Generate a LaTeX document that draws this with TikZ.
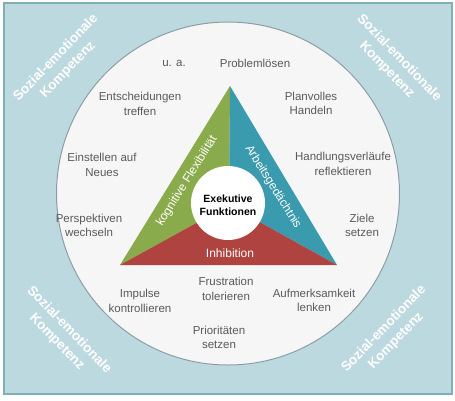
\documentclass[tikz,border=0pt]{standalone}
\usepackage{fontspec}
\setmainfont{Liberation Sans}
\definecolor{bgblue}{HTML}{BDD9E0}
\definecolor{bgborder}{HTML}{7FAEB6}
\definecolor{circfill}{HTML}{F6F6F6}
\definecolor{circline}{HTML}{8C9EA3}
\definecolor{txtgray}{HTML}{5A5A5A}
\definecolor{trigreen}{HTML}{8AAB4B}
\definecolor{triteal}{HTML}{3A9AAE}
\definecolor{trired}{HTML}{AF4340}
\begin{document}
\begin{tikzpicture}[x=1pt,y=-1pt,
  lbl/.style={align=center,text=txtgray,font=\fontsize{11.5}{14.5}\selectfont,inner sep=0pt},
  corner/.style={align=center,text=white,font=\bfseries\fontsize{13.5}{17}\selectfont,inner sep=0pt},
  trilbl/.style={text=white,font=\fontsize{12}{14}\selectfont,inner sep=0pt},
  core/.style={align=center,text=black,font=\bfseries\fontsize{10.5}{12.5}\selectfont,inner sep=0pt}]
\useasboundingbox (0,0) rectangle (455,400);
% background
\draw[fill=bgblue,draw=bgborder,line width=1.2pt] (4,3) rectangle (452,394);
% corner labels
\node[corner,rotate=46]  (ctl) at (62,64)  {Sozial-emotionale\\Kompetenz};
\node[corner,rotate=-46] (ctr) at (393,64) {Sozial-emotionale\\Kompetenz};
\node[corner,rotate=-46] (cbl) at (63,336) {Sozial-emotionale\\Kompetenz};
\node[corner,rotate=46]  (cbr) at (390,335) {Sozial-emotionale\\Kompetenz};
% big circle
\draw[fill=circfill,draw=circline,line width=1pt] (228,193.5) circle (171.5);
% triangle
\coordinate (A) at (230,86);
\coordinate (L) at (120,265);
\coordinate (R) at (337,265);
\coordinate (C) at (229,205);
\fill[trigreen] (A) -- (C) -- (L) -- cycle;
\fill[triteal] (A) -- (C) -- (R) -- cycle;
\fill[trired] (L) -- (C) -- (R) -- cycle;
\fill[white] (228,203) circle (37);
\node[core] (ef) at (228,205) {Exekutive\\Funktionen};
\node[trilbl,rotate=58] (kf) at (187,181) {kognitive Flexibilität};
\node[trilbl,rotate=-58] (ag) at (273,187) {Arbeitsgedächtnis};
\node[trilbl] (inh) at (230,253) {Inhibition};
% labels
\node[lbl] (ua) at (174,63) {u. a.};
\node[lbl] (pl) at (255,63) {Problemlösen};
\node[lbl] (et) at (140,104) {Entscheidungen\\treffen};
\node[lbl] (ph) at (311,103.5) {Planvolles\\Handeln};
\node[lbl] (en) at (102,165) {Einstellen auf\\Neues};
\node[lbl] (hr) at (343,164) {Handlungsverläufe\\reflektieren};
\node[lbl] (pw) at (89,225.5) {Perspektiven\\wechseln};
\node[lbl] (zs) at (362,225.5) {Ziele\\setzen};
\node[lbl] (ik) at (140,301) {Impulse\\kontrollieren};
\node[lbl] (ft) at (226,289) {Frustration\\tolerieren};
\node[lbl] (al) at (314,300.5) {Aufmerksamkeit\\lenken};
\node[lbl] (ps) at (219,337.5) {Prioritäten\\setzen};
\end{tikzpicture}
\end{document}
